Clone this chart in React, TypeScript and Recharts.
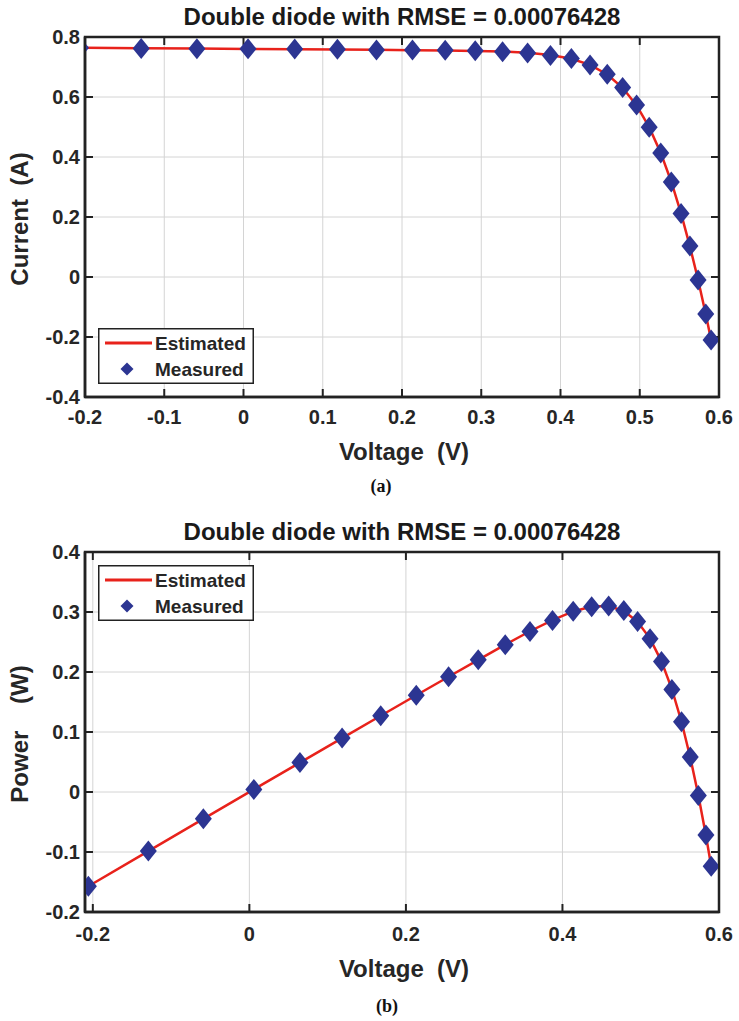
import React from 'react';
import {
  ComposedChart,
  Line,
  Scatter,
  XAxis,
  YAxis,
  Legend,
  ReferenceArea,
  ReferenceLine,
} from 'recharts';

// ---------- data ----------
const voltage = [
  -0.2057, -0.1291, -0.0588, 0.0057, 0.0646, 0.1185, 0.1678, 0.2132, 0.2545, 0.2924,
  0.3269, 0.3585, 0.3873, 0.4137, 0.4373, 0.459, 0.4784, 0.496, 0.5119, 0.5265,
  0.5398, 0.5521, 0.5633, 0.5736, 0.5833, 0.59,
];
const currentMeasured = [
  0.764, 0.762, 0.7605, 0.7605, 0.76, 0.759, 0.757, 0.757, 0.7555, 0.754,
  0.7505, 0.7465, 0.7385, 0.728, 0.7065, 0.6755, 0.632, 0.573, 0.499, 0.413,
  0.3165, 0.212, 0.1035, -0.01, -0.123, -0.21,
];
const currentEstimated = [
  0.764, 0.7626, 0.7613, 0.7601, 0.7591, 0.7581, 0.7571, 0.7561, 0.755, 0.7536,
  0.7513, 0.7473, 0.7401, 0.7274, 0.7069, 0.6752, 0.6307, 0.572, 0.4995, 0.4137,
  0.3175, 0.2121, 0.1022, -0.0093, -0.1244, -0.2092,
];
const powerMeasured = [
  -0.15715, -0.09837, -0.04472, 0.00433, 0.0491, 0.08994, 0.12702, 0.16139, 0.19227, 0.22047,
  0.24534, 0.26762, 0.28602, 0.30117, 0.30895, 0.31005, 0.30235, 0.28421, 0.25544, 0.21744,
  0.17085, 0.11705, 0.0583, -0.00574, -0.07175, -0.1239,
];
const powerEstimated = [
  -0.15715, -0.09845, -0.04476, 0.00433, 0.04904, 0.08983, 0.12704, 0.1612, 0.19215, 0.22035,
  0.2456, 0.26791, 0.28664, 0.30093, 0.30913, 0.30992, 0.30173, 0.28371, 0.25569, 0.21781,
  0.17139, 0.1171, 0.05757, -0.00533, -0.07256, -0.12343,
];
const currentTicks = [-0.4, -0.2, 0, 0.2, 0.4, 0.6, 0.8];
const voltageTicksA = [-0.2, -0.1, 0, 0.1, 0.2, 0.3, 0.4, 0.5, 0.6];
const powerTicks = [-0.2, -0.1, 0, 0.1, 0.2, 0.3, 0.4];
const voltageTicksB = [-0.2, 0, 0.2, 0.4, 0.6];
const titleText = 'Double diode with RMSE = 0.00076428';
const seriesNames = ['Estimated', 'Measured'];

const estA = voltage.map((v, k) => ({ v, y: currentEstimated[k] }));
const measA = voltage.map((v, k) => ({ v, y: currentMeasured[k] }));
const estB = voltage.map((v, k) => ({ v, y: powerEstimated[k] }));
const measB = voltage.map((v, k) => ({ v, y: powerMeasured[k] }));

// ---------- style ----------
const FONT = '"Liberation Sans", Arial, Helvetica, sans-serif';
const RED = '#e8221b';
const BLUE = '#2c3592';
const AXIS = '#222222';
const TEXT = '#262626';
const GRID = '#d4d4d4';
const TICK_LEN = 8; // px
const PLOT_LEFT = 85; // px
const PLOT_W = 634; // px
const PLOT_H = 360; // px

const fmt = (v: number) => String(Math.round(v * 10) / 10);

const BottomTick = (props: any) => {
  const { x, y, payload } = props;
  return (
    <text x={x} y={y} dy="0.71em" textAnchor="middle" fontSize={20} fontWeight="bold" fill={TEXT} fontFamily={FONT}>
      {fmt(payload.value)}
    </text>
  );
};
const LeftTick = (props: any) => {
  const { x, y, payload } = props;
  return (
    <text x={x} y={y} dy="0.355em" textAnchor="end" fontSize={20} fontWeight="bold" fill={TEXT} fontFamily={FONT}>
      {fmt(payload.value)}
    </text>
  );
};

const diamond = (cx: number, cy: number, hw: number, hh: number) =>
  `${cx},${cy - hh} ${cx + hw},${cy} ${cx},${cy + hh} ${cx - hw},${cy}`;

const DiamondShape = (props: any) => {
  const { cx, cy } = props;
  if (cx == null || cy == null) return null;
  return <polygon points={diamond(cx, cy, 8.5, 10.5)} fill={BLUE} />;
};

const LegendBox = () => (
  <svg width={156} height={56} style={{ display: 'block' }}>
    <rect x={0.75} y={0.75} width={154.5} height={54.5} fill="#fff" stroke={AXIS} strokeWidth={1.5} />
    <line x1={7} x2={54} y1={15} y2={15} stroke={RED} strokeWidth={3} />
    <polygon points={diamond(29, 41, 6.5, 6.5)} fill={BLUE} />
    <text x={57} y={15} dy="0.355em" fontSize={19} fontWeight="bold" fill={TEXT} fontFamily={FONT}>
      {seriesNames[0]}
    </text>
    <text x={57} y={41} dy="0.355em" fontSize={19} fontWeight="bold" fill={TEXT} fontFamily={FONT}>
      {seriesNames[1]}
    </text>
  </svg>
);

const textStyle = { fontFamily: FONT, fontWeight: 'bold' as const };

interface PanelProps {
  est: { v: number; y: number }[];
  meas: { v: number; y: number }[];
  xDomain: [number, number];
  yDomain: [number, number];
  xTicks: number[];
  yTicks: number[];
  height: number;
  margin: { top: number; right: number; bottom: number; left: number };
  xTickMargin: number;
  titleY: number;
  xLabelY: number;
  yLabel: string;
  yLabelY: number;
  legendTop: number;
  caption: string;
  captionX: number;
  captionY: number;
}

const Panel = (p: PanelProps) => {
  const [x0, x1] = p.xDomain;
  const [y0, y1] = p.yDomain;
  const dx = ((x1 - x0) * TICK_LEN) / PLOT_W;
  const dy = ((y1 - y0) * TICK_LEN) / PLOT_H;
  const innerX = p.xTicks.filter((t) => t > x0 && t < x1);
  const innerY = p.yTicks.filter((t) => t > y0 && t < y1);
  const tickSegs: [number, number, number, number][] = [
    ...p.xTicks.map((t) => [t, y0, t, y0 + dy] as [number, number, number, number]),
    ...p.xTicks.map((t) => [t, y1, t, y1 - dy] as [number, number, number, number]),
    ...p.yTicks.map((t) => [x0, t, x0 + dx, t] as [number, number, number, number]),
    ...p.yTicks.map((t) => [x1, t, x1 - dx, t] as [number, number, number, number]),
  ];
  return (
    <div style={{ position: 'relative', width: 739, height: p.height }}>
      <ComposedChart width={739} height={p.height} margin={p.margin}>
        <XAxis
          type="number"
          dataKey="v"
          domain={p.xDomain}
          ticks={p.xTicks}
          allowDataOverflow
          height={30}
          tickMargin={p.xTickMargin}
          tickSize={0}
          tickLine={false}
          axisLine={{ stroke: AXIS, strokeWidth: 2.5 }}
          tick={BottomTick}
          interval={0}
        />
        <YAxis
          type="number"
          domain={p.yDomain}
          ticks={p.yTicks}
          allowDataOverflow
          width={60}
          tickMargin={5}
          tickSize={0}
          tickLine={false}
          axisLine={{ stroke: AXIS, strokeWidth: 2.5 }}
          tick={LeftTick}
          interval={0}
        />
        {innerX.map((t) => (
          <ReferenceLine key={`gx${t}`} x={t} stroke={GRID} strokeWidth={1} />
        ))}
        {innerY.map((t) => (
          <ReferenceLine key={`gy${t}`} y={t} stroke={GRID} strokeWidth={1} />
        ))}
        {tickSegs.map(([ax, ay, bx, by], k) => (
          <ReferenceLine
            key={`tk${k}`}
            segment={[{ x: ax, y: ay }, { x: bx, y: by }]}
            stroke={AXIS}
            strokeWidth={2}
            ifOverflow="visible"
          />
        ))}
        <ReferenceArea x1={x0} x2={x1} y1={y0} y2={y1} fill="none" stroke={AXIS} strokeWidth={2.5} ifOverflow="visible" />
        <Line
          data={p.est}
          dataKey="y"
          type="linear"
          stroke={RED}
          strokeWidth={2.5}
          dot={false}
          activeDot={false}
          isAnimationActive={false}
          name={seriesNames[0]}
        />
        <Scatter data={p.meas} dataKey="y" shape={DiamondShape} isAnimationActive={false} name={seriesNames[1]} />
        <Legend
          layout="horizontal"
          verticalAlign="middle"
          align="center"
          content={() => <LegendBox />}
          wrapperStyle={{ left: 98, top: p.legendTop, width: 156, height: 56 }}
        />
        <text x={402} y={p.titleY} textAnchor="middle" fontSize={24} fill="#1a1a1a" style={textStyle}>
          {titleText}
        </text>
        <text x={404} y={p.xLabelY} textAnchor="middle" fontSize={24} fill={TEXT} style={{ ...textStyle, whiteSpace: 'pre' }}>
          {'Voltage  (V)'}
        </text>
        <text
          x={28}
          y={p.yLabelY}
          textAnchor="middle"
          fontSize={24}
          fill={TEXT}
          transform={`rotate(-90, 28, ${p.yLabelY})`}
          style={{ ...textStyle, whiteSpace: 'pre' }}
        >
          {p.yLabel}
        </text>
        <text
          x={p.captionX}
          y={p.captionY}
          textAnchor="middle"
          fontSize={18}
          fontWeight="bold"
          fill="#111"
          fontFamily='"Liberation Serif", "Times New Roman", serif'
        >
          {p.caption}
        </text>
      </ComposedChart>
      {/* axes box overlay */}
      <div
        style={{
          position: 'absolute',
          left: PLOT_LEFT - 1,
          top: p.margin.top - 1,
          width: PLOT_W + 2,
          height: PLOT_H + 2,
          border: `2px solid ${AXIS}`,
          boxSizing: 'border-box',
          pointerEvents: 'none',
        }}
      />
    </div>
  );
};

export default function App() {
  return (
    <div style={{ position: 'absolute', left: 0, top: 0, width: 739, height: 1021, background: '#fff' }}>
      <div style={{ position: 'absolute', left: 0, top: 0 }}>
        <Panel
          est={estA}
          meas={measA}
          xDomain={[-0.2, 0.6]}
          yDomain={[-0.4, 0.8]}
          xTicks={voltageTicksA}
          yTicks={currentTicks}
          height={500}
          margin={{ top: 37, right: 20, bottom: 73, left: 25 }}
          xTickMargin={13}
          titleY={25}
          xLabelY={460}
          yLabel={'Current  (A)'}
          yLabelY={219}
          legendTop={328}
          caption="(a)"
          captionX={381}
          captionY={492}
        />
      </div>
      <div style={{ position: 'absolute', left: 0, top: 500 }}>
        <Panel
          est={estB}
          meas={measB}
          xDomain={[-0.21, 0.6]}
          yDomain={[-0.2, 0.4]}
          xTicks={voltageTicksB}
          yTicks={powerTicks}
          height={521}
          margin={{ top: 52, right: 20, bottom: 79, left: 25 }}
          xTickMargin={15}
          titleY={40}
          xLabelY={477}
          yLabel={'Power    (W)'}
          yLabelY={234}
          legendTop={65}
          caption="(b)"
          captionX={387}
          captionY={512}
        />
      </div>
    </div>
  );
}
